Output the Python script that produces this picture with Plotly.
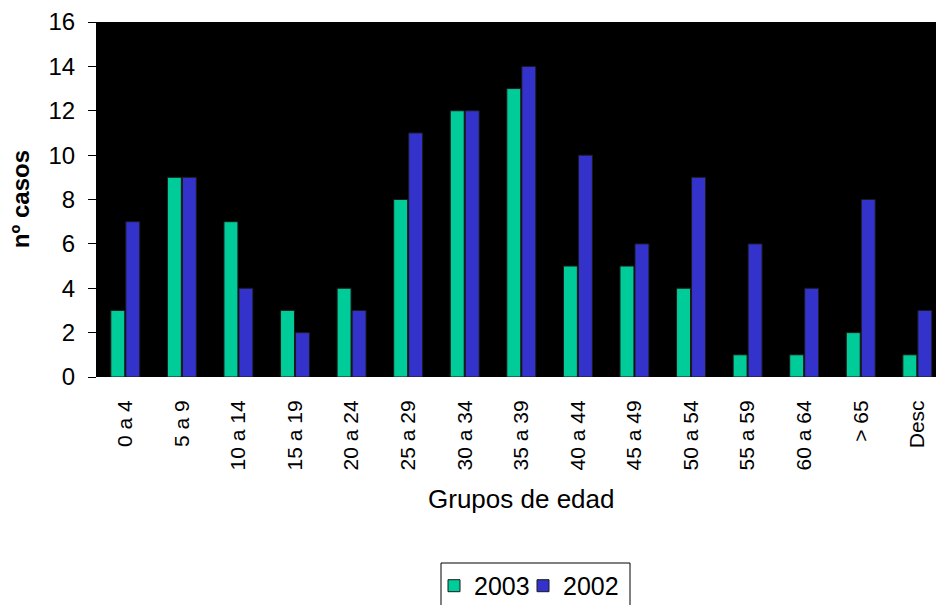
import plotly.graph_objects as go

# Age groups and yearly case counts
grupos = ["0 a 4", "5 a 9", "10 a 14", "15 a 19", "20 a 24", "25 a 29", "30 a 34",
          "35 a 39", "40 a 44", "45 a 49", "50 a 54", "55 a 59", "60 a 64", "> 65", "Desc"]
casos_2003 = [3, 9, 7, 3, 4, 8, 12, 13, 5, 5, 4, 1, 1, 2, 1]
casos_2002 = [7, 9, 4, 2, 3, 11, 12, 14, 10, 6, 9, 6, 4, 8, 3]
y_ticks = [0, 2, 4, 6, 8, 10, 12, 14, 16]

FONT = "Liberation Sans, Arial, sans-serif"

fig = go.Figure()
fig.add_trace(go.Bar(name="2003", x=list(range(len(grupos))), y=casos_2003,
                     legend="legend",
                     marker=dict(color="#00CC99", line=dict(color="#1a1a1a", width=1))))
fig.add_trace(go.Bar(name="2002", x=list(range(len(grupos))), y=casos_2002,
                     legend="legend2",
                     marker=dict(color="#3333CC", line=dict(color="#1a1a1a", width=1))))

legend_common = dict(orientation="h", xref="container", yref="container",
                     xanchor="left", y=0.0695, yanchor="top",
                     borderwidth=0, bgcolor="rgba(0,0,0,0)",
                     font=dict(size=25, family=FONT), itemwidth=30)

fig.update_layout(
    width=936, height=605,
    margin=dict(l=97, r=0, t=22, b=228, autoexpand=False),
    paper_bgcolor="white",
    plot_bgcolor="black",
    barmode="group",
    bargap=0.47,
    bargroupgap=0.07,
    font=dict(family=FONT, color="black"),
    showlegend=True,
    legend=dict(x=434 / 936, **legend_common),
    legend2=dict(x=523 / 936, **legend_common),
    xaxis=dict(range=[-0.5, 14.33], tickmode="array",
               tickvals=list(range(len(grupos))), ticktext=grupos,
               tickangle=-90, tickfont=dict(size=21, family=FONT),
               ticks="outside", ticklen=14, tickcolor="rgba(0,0,0,0)",
               showgrid=False, zeroline=False, showline=False, automargin=False),
    yaxis=dict(range=[0, 16], tickmode="array", tickvals=y_ticks,
               tickfont=dict(size=24, family=FONT), ticks="outside", ticklen=8,
               tickcolor="black", ticklabelstandoff=8,
               showgrid=False, zeroline=False, automargin=False,
               showline=True, linecolor="black"),
    shapes=[
        # frame around the two legend entries
        dict(type="rect", xref="paper", yref="paper",
             x0=(441 - 97) / 839, x1=(630 - 97) / 839,
             y0=(377 - 563) / 355, y1=(377 - 612) / 355,
             line=dict(color="black", width=1), fillcolor="rgba(0,0,0,0)",
             layer="below"),
    ],
    annotations=[
        dict(text="Grupos de edad", x=(521 - 97) / 839, xref="paper",
             y=(377 - 499) / 355, yref="paper", xanchor="center", yanchor="middle",
             showarrow=False, font=dict(size=26, family=FONT)),
        dict(text="<b>nº casos</b>", x=-0.091, xref="paper", y=0.5,
             yref="paper", xanchor="center", yanchor="middle", textangle=-90,
             showarrow=False, font=dict(size=24, family=FONT)),
    ],
)

fig.write_html("out.html")
